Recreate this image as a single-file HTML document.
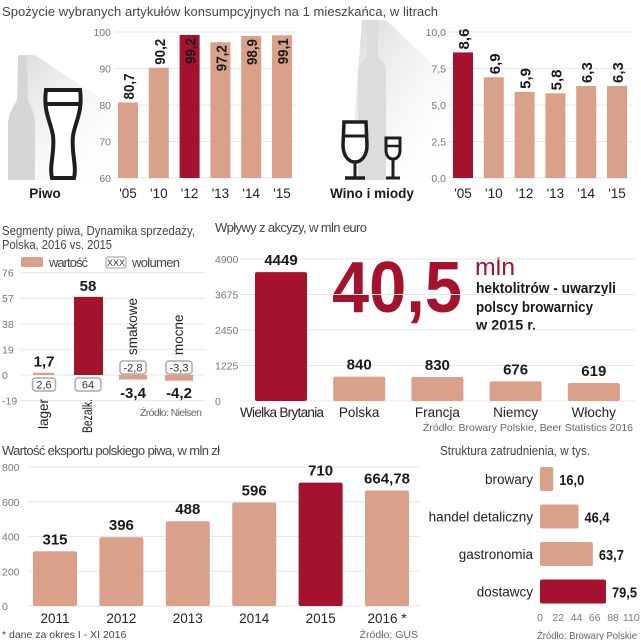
<!DOCTYPE html>
<html><head><meta charset="utf-8"><style>
body{margin:0;background:#fff}
svg{display:block;font-family:"Liberation Sans",sans-serif}
.t{fill:#444;font-size:13px}
.tick{fill:#777;font-size:10.5px}
.val{fill:#1a1a1a;font-size:15px;font-weight:bold}
.cat{fill:#222;font-size:13.5px}
.grid{stroke:#e6e6e6;stroke-width:1}
</style></head><body>
<svg id="c" width="641" height="640" viewBox="0 0 641 640">
<defs>
<linearGradient id="sh" x1="0" y1="0" x2="1" y2="1"><stop offset="0" stop-color="#d8d8d8"/><stop offset="1" stop-color="#fff" stop-opacity="0"/></linearGradient>
</defs>
<text x="2" y="16" class="t" textLength="436">Spożycie wybranych artykułów konsumpcyjnych na 1 mieszkańca, w litrach</text>
<polygon points="22,55 35,55 125,115 125,180 8,180" fill="url(#sh)"/>
<path d="M18,55 L27,55 L27,62 L28,100 C34,112 35,118 35,125 L35,180 L8,180 L8,125 C8,118 10,112 17,100 L18,62 Z" fill="#d6d6d6"/>
<path d="M46,90 L80,90 C83,112 75,122 73,136 C71,152 77,166 74,178 L52,178 C49,166 55,152 53,136 C51,122 43,112 46,90 Z" fill="#fff" stroke="#1e1e1e" stroke-width="4"/>
<line x1="47" y1="104" x2="79" y2="104" stroke="#1e1e1e" stroke-width="4"/>
<text x="45" y="198" text-anchor="middle" font-weight="bold" font-size="13.5" fill="#1a1a1a">Piwo</text>
<polygon points="362,20 386,20 455,85 455,180 350,180" fill="url(#sh)"/>
<path d="M367,20 L378,20 L378,58 C384,62 386,66 386,72 L386,180 L358,180 L358,72 C358,66 361,62 367,58 Z" fill="#dcdcdc"/>
<path d="M344,122 L366,122 L367,145 C367,155 362,162 355,162 C348,162 343,155 343,145 Z" fill="#fff" stroke="#1e1e1e" stroke-width="3.5"/>
<line x1="344" y1="136" x2="366" y2="136" stroke="#1e1e1e" stroke-width="3"/>
<line x1="355" y1="162" x2="355" y2="178" stroke="#1e1e1e" stroke-width="3"/>
<line x1="345" y1="178" x2="365" y2="178" stroke="#1e1e1e" stroke-width="3.5"/>
<path d="M386,138 L400,138 L400,150 C400,156 397,159 393,159 C389,159 386,156 386,150 Z" fill="#fff" stroke="#1e1e1e" stroke-width="3"/>
<line x1="386" y1="146" x2="400" y2="146" stroke="#1e1e1e" stroke-width="2.5"/>
<line x1="393" y1="159" x2="393" y2="178" stroke="#1e1e1e" stroke-width="3"/>
<line x1="386" y1="178" x2="400" y2="178" stroke="#1e1e1e" stroke-width="3"/>
<text x="372" y="198" text-anchor="middle" font-weight="bold" font-size="13.5" fill="#1a1a1a">Wino i miody</text>

<text x="2" y="235" class="t" font-size="13.5" textLength="193" lengthAdjust="spacingAndGlyphs">Segmenty piwa, Dynamika sprzedaży,</text>
<text x="2" y="249" class="t" font-size="13.5" textLength="110" lengthAdjust="spacingAndGlyphs">Polska, 2016 vs. 2015</text>
<rect x="21" y="257" width="22" height="10" rx="2" fill="#d9a08a"/>
<text x="49" y="267" class="t" textLength="39">wartość</text>
<rect x="106" y="257" width="20" height="11" rx="2" fill="#fff" stroke="#999"/>
<text x="116" y="266" text-anchor="middle" font-size="9" fill="#333">XXX</text>
<text x="132" y="267" class="t" textLength="48">wolumen</text>
<text x="202" y="416" text-anchor="end" font-size="10.5" fill="#666" textLength="62">Źródło: Nielsen</text>

<text x="215" y="232" class="t" textLength="152">Wpływy z akcyzy, w mln euro</text>
<text x="332" y="312" font-size="72" font-weight="bold" fill="#a5122e" textLength="130" lengthAdjust="spacingAndGlyphs">40,5</text>
<text x="475" y="275" font-size="24" fill="#a5122e" textLength="40" lengthAdjust="spacingAndGlyphs">mln</text>
<text x="476" y="293" font-size="14.5" font-weight="bold" fill="#1a1a1a" textLength="140" lengthAdjust="spacingAndGlyphs">hektolitrów - uwarzyli</text>
<text x="476" y="312" font-size="14.5" font-weight="bold" fill="#1a1a1a" textLength="117" lengthAdjust="spacingAndGlyphs">polscy browarnicy</text>
<text x="476" y="330" font-size="14.5" font-weight="bold" fill="#1a1a1a" textLength="60" lengthAdjust="spacingAndGlyphs">w 2015 r.</text>
<text x="633" y="431" text-anchor="end" font-size="10.5" fill="#666">Źródło: Browary Polskie, Beer Statistics 2016</text>

<text x="2" y="455" class="t" textLength="218">Wartość eksportu polskiego piwa, w mln zł</text>
<text x="2" y="638" font-size="10.5" fill="#444">* dane za okres I - XI 2016</text>
<text x="418" y="638" text-anchor="end" font-size="10.5" fill="#666">Źródło: GUS</text>

<text x="440" y="455" class="t" textLength="150" lengthAdjust="spacingAndGlyphs">Struktura zatrudnienia, w tys.</text>
<text x="637" y="639" text-anchor="end" font-size="10.5" fill="#666" textLength="100" lengthAdjust="spacingAndGlyphs">Źródło: Browary Polskie</text>
</svg>
<script>
const beerYears=["'05","'10","'12","'13","'14","'15"];
const beerValues=[80.7,90.2,99.2,97.2,98.9,99.1];
const beerTicks=[60,70,80,90,100];
const wineYears=["'05","'10","'12","'13","'14","'15"];
const wineValues=[8.6,6.9,5.9,5.8,6.3,6.3];
const wineTicks=[0,2.5,5,7.5,10];
const segNames=["lager","Bezalk.","smakowe","mocne"];
const segValues=[1.7,58,-3.4,-4.2];
const segVolumes=[2.6,64,-2.8,-3.3];
const segTicks=[-19,0,19,38,57,76];
const exciseCountries=["Wielka Brytania","Polska","Francja","Niemcy","Włochy"];
const exciseValues=[4449,840,830,676,619];
const exciseTicks=[0,1225,2450,3675,4900];
const exportYears=["2011","2012","2013","2014","2015","2016 *"];
const exportValues=[315,396,488,596,710,664.78];
const exportTicks=[0,200,400,600,800];
const jobNames=["browary","handel detaliczny","gastronomia","dostawcy"];
const jobValues=[16.0,46.4,63.7,79.5];
const jobTicks=[0,22,44,66,88,110];

const NS="http://www.w3.org/2000/svg";
const svg=document.getElementById('c');
const SAL="#d9a08a",RED="#a5122e";
function mk(tag,a){const e=document.createElementNS(NS,tag);for(const k in a)e.setAttribute(k,a[k]);svg.appendChild(e);return e;}
function fmt(v,d){return v.toFixed(d).replace('.',',');}
function fmtT(v){return String(v).replace('.',',');}

// Beer
const yB=v=>178-(v-60)*3.65, xB=i=>118+i*30.8;
beerTicks.forEach(t=>{
 let g=mk('line',{x1:115,x2:295,y1:yB(t),y2:yB(t),class:'grid'});
 
 
 let l=mk('text',{x:111,y:yB(t)+4,'text-anchor':'end',class:'tick'});l.textContent=t;
 
 
});
beerValues.forEach((v,i)=>{
 const max=Math.max(...beerValues);
 let r=mk('rect',{x:xB(i),y:yB(v),width:20,height:yB(60)-yB(v),fill:v===max?RED:SAL});
 
 
 const cx=xB(i)+16, inside=v>95;
 let t=mk('text',{x:cx,y:inside?yB(v)+3:yB(v)-3,'text-anchor':inside?'end':'start',class:'val',textLength:26,lengthAdjust:'spacingAndGlyphs',transform:`rotate(-90 ${cx} ${inside?yB(v)+3:yB(v)-3})`});
 t.textContent=fmt(v,1);
 
 
 let c=mk('text',{x:xB(i)+10,y:198,'text-anchor':'middle',class:'cat'});c.textContent=beerYears[i];
 
 
});
// Wine
const yW=v=>178-v*14.6, xW=i=>453+i*30.8;
wineTicks.forEach(t=>{
 let g=mk('line',{x1:449,x2:632,y1:yW(t),y2:yW(t),class:'grid'});
 
 
 let l=mk('text',{x:446,y:yW(t)+4,'text-anchor':'end',class:'tick'});l.textContent=t.toFixed(1).replace('.',',');
 
 
});
wineValues.forEach((v,i)=>{
 const max=Math.max(...wineValues);
 let r=mk('rect',{x:xW(i),y:yW(v),width:20,height:yW(0)-yW(v),fill:v===max?RED:SAL});
 
 
 const cx=xW(i)+16, yy=yW(v)-3;
 let t=mk('text',{x:cx,y:yy,class:'val',transform:`rotate(-90 ${cx} ${yy})`});t.textContent=fmt(v,1);
 
 
 let c=mk('text',{x:xW(i)+10,y:198,'text-anchor':'middle',class:'cat'});c.textContent=wineYears[i];
 
 
});
// Segments
const yS=v=>375-v*1.347, xS=i=>[33,74,119,165][i];
segTicks.forEach(t=>{
 let g=mk('line',{x1:20,x2:205,y1:yS(t),y2:yS(t),class:'grid'});
 
 
 let l=mk('text',{x:2,y:yS(t)+4,class:'tick'});l.textContent=t;
 
 
});
segValues.forEach((v,i)=>{
 const max=Math.max(...segValues);
 const top=Math.min(yS(v),yS(0)), h=Math.max(Math.abs(yS(v)-yS(0)),2);
 let r=mk('rect',{x:xS(i),y:top,width:i<2?(i==0?21:29):28,height:h,fill:v===max?RED:SAL});
 
 
 const cx=xS(i)+(i==0?11:14);
 let t=mk('text',{x:cx,y:v>=0?yS(v)-6:yS(0)+23,'text-anchor':'middle',class:'val',"font-size":16});t.textContent=fmtT(v);
 
 
 const bw=i==0?21:24, by=v>=0?yS(0)+3:yS(0)-14;
 let b=mk('rect',{x:cx-bw/2-1,y:by,width:bw+2,height:13,rx:3,fill:'#fff',stroke:'#aaa','stroke-width':1.5});
 
 
 let bt=mk('text',{x:cx,y:by+10.5,'text-anchor':'middle','font-size':11,fill:'#333'});bt.textContent=fmtT(segVolumes[i]);
 
 
 let lx=cx+4, ly=v>=0?yS(0)+24:yS(0)-20;
 let c=mk('text',{x:lx,y:ly,'text-anchor':v>=0?'end':'start',class:'cat','font-size':12.5,transform:`rotate(-90 ${lx} ${ly})`});
 c.textContent=segNames[i];
 if(i==1){c.setAttribute('textLength','34');c.setAttribute('lengthAdjust','spacingAndGlyphs');}
 
 
});
// Excise
const yE=v=>401-v*(142/4900), xE=i=>255+i*78.2;
exciseTicks.forEach(t=>{
 let g=mk('line',{x1:240,x2:635,y1:yE(t),y2:yE(t),class:'grid'});
 
 
 let l=mk('text',{x:215,y:yE(t)+4,class:'tick'});l.textContent=t;
 
 
});
exciseValues.forEach((v,i)=>{
 const max=Math.max(...exciseValues);
 let r=mk('rect',{x:xE(i),y:yE(v),width:52,height:yE(0)-yE(v),rx:2,fill:v===max?RED:SAL});
 
 
 let t=mk('text',{x:xE(i)+26,y:yE(v)-7,'text-anchor':'middle',class:'val'});t.textContent=v;
 
 
 let c=mk('text',{x:xE(i)+26,y:417,'text-anchor':'middle',class:'cat','font-size':13});c.textContent=exciseCountries[i];
 if(i==0){c.setAttribute('x',xE(i)-15);c.setAttribute('text-anchor','start');c.setAttribute('textLength','84');}
 
 
});
// Export
const yX=v=>606-v*(139/800), xX=i=>33+i*66.4;
exportTicks.forEach(t=>{
 let g=mk('line',{x1:28,x2:420,y1:yX(t),y2:yX(t),class:'grid'});
 
 
 let l=mk('text',{x:2,y:yX(t)+4,class:'tick'});l.textContent=t;
 
 
});
exportValues.forEach((v,i)=>{
 const max=Math.max(...exportValues);
 let r=mk('rect',{x:xX(i),y:yX(v),width:44,height:yX(0)-yX(v),rx:2,fill:v===max?RED:SAL});
 
 
 let t=mk('text',{x:xX(i)+22,y:yX(v)-7,'text-anchor':'middle',class:'val','font-size':16});t.textContent=String(v).replace('.',',');
 
 
 let c=mk('text',{x:xX(i)+22,y:623,'text-anchor':'middle',class:'cat','font-size':14});c.textContent=exportYears[i];
 
 
});
// Employment
const xJ=v=>540+v*0.83, yJ=i=>467+i*37.5;
jobTicks.forEach(t=>{
 let l=mk('text',{x:xJ(t),y:621,'text-anchor':'middle',class:'tick','font-size':10});l.textContent=t;
 
 
});
jobValues.forEach((v,i)=>{
 const max=Math.max(...jobValues);
 let r=mk('rect',{x:540,y:yJ(i),width:xJ(v)-540,height:24,rx:2,fill:v===max?RED:SAL});
 
 
 let t=mk('text',{x:xJ(v)+6,y:yJ(i)+18,class:'val','font-size':16,textLength:25,lengthAdjust:'spacingAndGlyphs'});t.textContent=fmt(v,1);
 
 
 let c=mk('text',{x:533,y:yJ(i)+17,'text-anchor':'end',class:'cat','font-size':13});c.textContent=jobNames[i];
 
 
});
</script>
</body></html>
